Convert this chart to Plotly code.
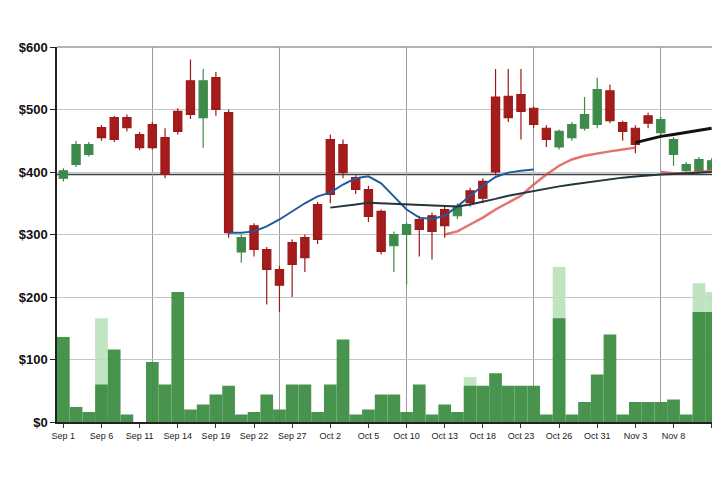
import plotly.graph_objects as go

# ---------------- data ----------------
dates = ["Sep 1", "Sep 4", "Sep 5", "Sep 6", "Sep 7", "Sep 8", "Sep 11", "Sep 12", "Sep 13",
         "Sep 14", "Sep 15", "Sep 18", "Sep 19", "Sep 20", "Sep 21", "Sep 22", "Sep 25",
         "Sep 26", "Sep 27", "Sep 28", "Sep 29", "Oct 2", "Oct 3", "Oct 4", "Oct 5", "Oct 6",
         "Oct 9", "Oct 10", "Oct 11", "Oct 12", "Oct 13", "Oct 16", "Oct 17", "Oct 18",
         "Oct 19", "Oct 20", "Oct 23", "Oct 24", "Oct 25", "Oct 26", "Oct 27", "Oct 30",
         "Oct 31", "Nov 1", "Nov 2", "Nov 3", "Nov 6", "Nov 7", "Nov 8", "Nov 9", "Nov 10",
         "Nov 13"]

open_ = [390, 412, 428, 471, 487, 487, 460, 476, 455, 497, 546, 487, 551, 495, 272, 314,
         276, 244, 287, 295, 348, 452, 444, 391, 372, 337, 282, 300, 324, 330, 340, 330,
         370, 385, 520, 521, 524, 502, 470, 440, 455, 470, 476, 530, 479, 470, 490, 463,
         428, 402, 402, 404]
high = [406, 450, 448, 475, 490, 492, 464, 480, 470, 502, 580, 565, 560, 500, 300, 318,
        280, 250, 292, 300, 352, 460, 452, 395, 378, 340, 305, 320, 330, 335, 345, 350,
        375, 390, 565, 565, 565, 505, 475, 468, 480, 520, 551, 540, 482, 475, 495, 488,
        456, 416, 424, 422]
low = [385, 408, 425, 450, 448, 465, 435, 436, 390, 460, 485, 439, 490, 295, 255, 265,
       188, 176, 200, 240, 285, 350, 390, 365, 320, 268, 240, 220, 265, 260, 295, 325,
       345, 350, 395, 480, 452, 470, 440, 436, 450, 466, 470, 478, 450, 430, 470, 458,
       410, 398, 398, 400]
close = [402, 444, 444, 455, 452, 471, 439, 439, 396, 465, 492, 546, 500, 303, 295, 276,
         244, 219, 252, 263, 292, 364, 399, 372, 329, 273, 300, 316, 308, 305, 314, 345,
         351, 358, 400, 487, 497, 476, 452, 465, 476, 492, 532, 482, 465, 444, 478, 484,
         452, 412, 420, 418]

volume = [68, 12, 8, 30, 58, 6, 0, 48, 30, 104, 10, 14, 22, 29, 6, 8, 22, 10, 30, 30, 8,
          30, 66, 6, 10, 22, 22, 8, 30, 6, 14, 8, 29, 29, 39, 29, 29, 29, 6, 83, 6, 16,
          38, 70, 6, 16, 16, 16, 18, 6, 88, 88]
volume_peak = [None, None, None, 83, None, None, None, None, None, None, None, None, None,
               None, None, None, None, None, None, None, None, None, None, None, None, None,
               None, None, None, None, None, None, 36, None, None, None, None, None, None,
               124, None, None, None, None, None, None, None, None, None, None, 111, 104]

ma_fast = [None] * 13 + [303, 303, 305, 313, 324, 337, 350, 361, 367, 380, 390, 393, 382,
                         361, 340, 327, 325, 330, 345, 362, 378, 392, 399, 402, 404] + [None] * 14
ma_mid = [None] * 30 + [300, 305, 316, 327, 340, 351, 362, 380, 396, 410, 420, 426, 430,
                        433, 436, 439, None, 400, 398, 398, 400, 402]
ma_slow = [None] * 21 + [343, 345, 348, 351, 350, 349, 348, 347, 346, 345, 345, 348, 352,
                         357, 362, 366, 370, 374, 377, 380, 383, 386, 389, 391, 393, 395,
                         396, 397, 398, 399, 400]
ma_long = [None] * 45 + [447, 452, 457, 460, 463, 466, 470]

ref_level = 396
price_ticks = [0, 100, 200, 300, 400, 500, 600]
price_tick_labels = ["$0", "$100", "$200", "$300", "$400", "$500", "$600"]

# ---------------- figure ----------------
idx = list(range(len(dates)))
label_idx = idx[::3]
label_text = [dates[i] for i in label_idx]

fig = go.Figure()

fig.add_trace(go.Bar(x=idx, y=volume_peak, yaxis="y2", marker_color="#b9e2b9",
                     marker_line_width=0, width=1.0, opacity=0.9, showlegend=False))
fig.add_trace(go.Bar(x=idx, y=volume, yaxis="y2", marker_color="#3f8f45",
                     marker_line_width=0, width=1.0, opacity=0.95, showlegend=False))

fig.add_trace(go.Candlestick(
    x=idx, open=open_, high=high, low=low, close=close,
    increasing=dict(line=dict(color="#3e8a4a", width=1.2), fillcolor="#3e8a4a"),
    decreasing=dict(line=dict(color="#9c1a1a", width=1.2), fillcolor="#a51c1c"),
    whiskerwidth=0, showlegend=False))

fig.add_trace(go.Scatter(x=idx, y=ma_fast, mode="lines",
                         line=dict(color="#1f5c9e", width=2), showlegend=False))
fig.add_trace(go.Scatter(x=idx, y=ma_mid, mode="lines",
                         line=dict(color="#d9473f", width=2.5), opacity=0.75, showlegend=False))
fig.add_trace(go.Scatter(x=idx, y=ma_slow, mode="lines",
                         line=dict(color="#22343c", width=2), showlegend=False))
fig.add_trace(go.Scatter(x=idx, y=ma_long, mode="lines",
                         line=dict(color="#111111", width=3), showlegend=False))

fig.update_layout(
    width=712, height=472,
    margin=dict(l=49, r=2, t=39, b=58),
    paper_bgcolor="white", plot_bgcolor="white",
    barmode="overlay", boxgap=0.08,
    font=dict(family="Liberation Sans, Arial, sans-serif", color="#111"),
    xaxis=dict(
        range=[-0.5, len(dates) - 0.5],
        tickmode="array", tickvals=label_idx, ticktext=label_text,
        tickfont=dict(size=9, color="#222"), ticks="outside", ticklen=4,
        tickcolor="#333",
        showgrid=False,
        minor=dict(dtick=10, tick0=7, showgrid=True, gridcolor="#9a9a9a", gridwidth=1.2),
        showline=True, linecolor="#222", linewidth=1.5,
        rangeslider=dict(visible=False),
        mirror=False, zeroline=False,
    ),
    yaxis=dict(
        range=[0, 600],
        tickmode="array", tickvals=price_ticks, ticktext=price_tick_labels,
        tickfont=dict(size=13, color="#111", weight="bold"),
        ticks="outside", ticklen=5, tickcolor="#222",
        showgrid=True, gridcolor="#c4c4c4", gridwidth=1,
        showline=True, linecolor="#222", linewidth=1.5,
        zeroline=False,
    ),
    yaxis2=dict(
        overlaying="y", range=[0, 300], showgrid=False, showticklabels=False,
        zeroline=False, showline=False,
    ),
)

fig.add_hline(y=ref_level, line_color="#3a3f44", line_width=1.6, layer="below")
fig.add_shape(type="line", xref="paper", yref="paper", x0=0, x1=1, y0=1, y1=1,
              line=dict(color="#9a9a9a", width=1.5))

fig.write_html("out.html")
